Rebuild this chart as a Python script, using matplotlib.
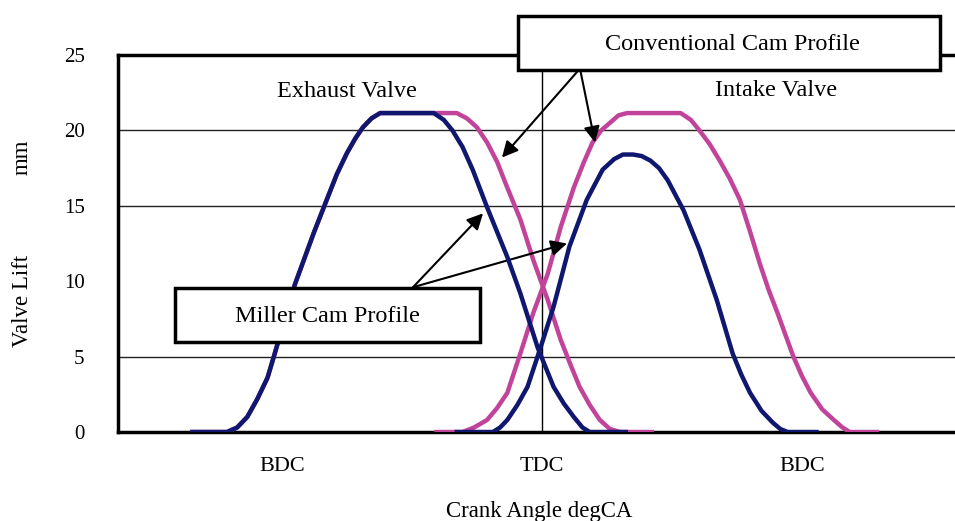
import matplotlib
matplotlib.use("Agg")
import matplotlib.pyplot as plt
from matplotlib.patches import Rectangle

plt.rcParams['font.family'] = ['Liberation Serif', 'DejaVu Serif']

## valve lift curves, crank angle in deg (TDC = 360), lift in mm
exh_conv_deg = [118, 142, 149, 156, 163, 170, 175, 182, 189, 202, 211, 218, 225, 231, 236, 242, 248,
                301, 308, 315, 322, 329, 336, 345, 354, 364, 373, 380, 386, 393, 400, 407, 414, 436]
exh_conv_mm = [0, 0, 0.3, 1.0, 2.2, 3.6, 5.2, 7.5, 9.8, 13.2, 15.4, 17.1, 18.5, 19.5, 20.2, 20.8, 21.15,
               21.15, 20.8, 20.2, 19.2, 17.9, 16.2, 14.1, 11.4, 8.75, 6.1, 4.4, 3.0, 1.8, 0.8, 0.2, 0, 0]

exh_mill_deg = [118, 142, 149, 156, 163, 170, 175, 182, 189, 202, 211, 218, 225, 231, 236, 242, 248,
                285, 292, 298, 305, 312, 322, 336, 345, 357, 368, 375, 382, 388, 393, 418]
exh_mill_mm = [0, 0, 0.3, 1.0, 2.2, 3.6, 5.2, 7.5, 9.8, 13.2, 15.4, 17.1, 18.5, 19.5, 20.2, 20.8, 21.15,
               21.15, 20.7, 20.0, 18.9, 17.4, 14.9, 11.6, 9.2, 5.6, 3.0, 1.9, 1.0, 0.3, 0, 0]

int_conv_deg = [287, 305, 313, 322, 329, 336, 345, 354, 364, 373, 382, 389, 395, 401, 407, 413, 419,
                456, 463, 469, 476, 483, 490, 497, 504, 511, 517, 523, 534, 540, 546, 554, 562, 568, 573, 592]
int_conv_mm = [0, 0, 0.3, 0.8, 1.6, 2.6, 5.2, 7.9, 10.5, 13.6, 16.2, 17.9, 19.2, 20.0, 20.5, 21.0, 21.15,
               21.15, 20.7, 20.0, 19.1, 18.0, 16.8, 15.4, 13.3, 11.1, 9.4, 7.9, 5.0, 3.7, 2.6, 1.5, 0.8, 0.3, 0, 0]

int_mill_deg = [301, 326, 331, 336, 343, 350, 359, 368, 379, 391, 402, 410, 416, 423, 429, 435, 441, 447,
                458, 469, 481, 492, 498, 504, 512, 520, 525, 530, 550]
int_mill_mm = [0, 0, 0.3, 0.8, 1.8, 3.0, 5.6, 8.3, 12.3, 15.4, 17.4, 18.1, 18.4, 18.4, 18.3, 18.0, 17.5, 16.7,
               14.7, 12.1, 8.75, 5.2, 3.8, 2.6, 1.4, 0.6, 0.2, 0, 0]

tick_pos = [180, 360, 540]
tick_lab = ['BDC', 'TDC', 'BDC']
grid_mm = [5, 15, 20]

navy = '#0f176e'
pink = '#c2449a'

fig = plt.figure(figsize=(9.55, 5.21), dpi=100)
ax = fig.add_axes([118/955, 89/521, 837/955, 377/521])

for g in grid_mm:
    ax.axhline(g, color='#222222', lw=1.0, zorder=1)
ax.axvline(360, color='black', lw=1.0, zorder=1)

ax.plot(exh_conv_deg, exh_conv_mm, color=pink, lw=3.2, zorder=3)
ax.plot(int_conv_deg, int_conv_mm, color=pink, lw=3.2, zorder=3)
ax.plot(exh_mill_deg, exh_mill_mm, color=navy, lw=3.2, zorder=4)
ax.plot(int_mill_deg, int_mill_mm, color=navy, lw=3.2, zorder=4)

ax.set_xlim(66.5, 645.9)
ax.set_ylim(0, 25)
ax.set_yticks([0, 5, 10, 15, 20, 25])
ax.set_xticks(tick_pos, tick_lab)
ax.tick_params(axis='y', length=0, pad=24, labelsize=15)
ax.tick_params(axis='x', length=0, pad=18, labelsize=16)
ax.spines['right'].set_visible(False)
for s in ['left', 'top', 'bottom']:
    ax.spines[s].set_linewidth(2.5)

ax.text(225, 22.2, 'Exhaust Valve', ha='center', va='baseline', fontsize=17.5)
ax.text(522, 22.3, 'Intake Valve', ha='center', va='baseline', fontsize=17.5)

## arrows
arr = dict(arrowstyle='-|>', color='black', lw=1.5, mutation_scale=24, shrinkA=0, shrinkB=0)
ax.annotate('', xy=(332.3, 18.2), xytext=(386.3, 24.1), arrowprops=arr, annotation_clip=False)
ax.annotate('', xy=(396.7, 19.2), xytext=(386.3, 24.1), arrowprops=arr, annotation_clip=False)
ax.annotate('', xy=(319.2, 14.5), xytext=(270.7, 9.6), arrowprops=arr, annotation_clip=False)
ax.annotate('', xy=(377.3, 12.5), xytext=(270.7, 9.6), arrowprops=arr, annotation_clip=False)

## label boxes
fig.add_artist(Rectangle((518/955, 451/521), 422/955, 54/521, transform=fig.transFigure,
                         facecolor='white', edgecolor='black', lw=2.5, zorder=5))
fig.add_artist(Rectangle((175/955, 179/521), 305/955, 54/521, transform=fig.transFigure,
                         facecolor='white', edgecolor='black', lw=2.5, zorder=5))
fig.text(732/955, 471/521, 'Conventional Cam Profile', ha='center', va='baseline', fontsize=17.5, zorder=6)
fig.text(327/955, 199/521, 'Miller Cam Profile', ha='center', va='baseline', fontsize=17.5, zorder=6)

## axis titles
fig.text(539/955, 4/521, 'Crank Angle degCA', ha='center', va='baseline', fontsize=16.5)
fig.text(22/955, (521-301)/521, 'Valve Lift', rotation=90, ha='center', va='center', fontsize=16.5)
fig.text(22/955, (521-157)/521, 'mm', rotation=90, ha='center', va='center', fontsize=16.5)

fig.savefig('out.png', dpi=100)
